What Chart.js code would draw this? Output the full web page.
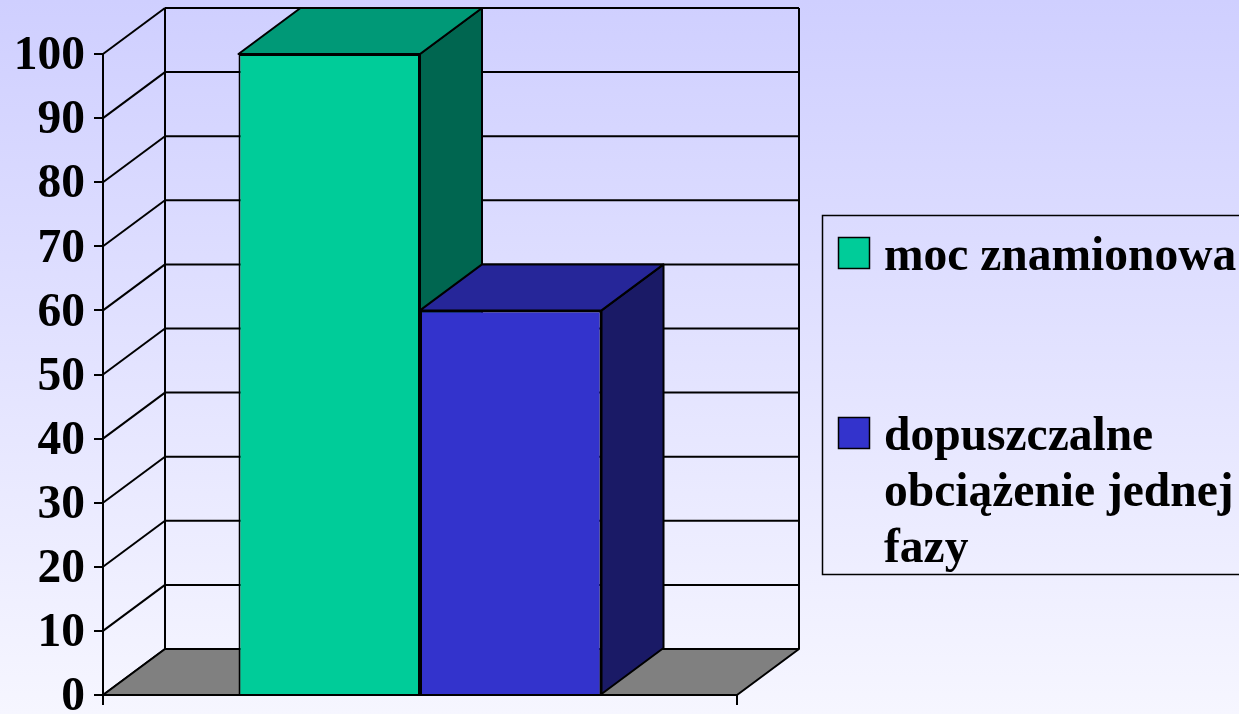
<!DOCTYPE html>
<html lang="pl">
<head>
<meta charset="utf-8">
<title>moc znamionowa</title>
<script src="https://cdn.jsdelivr.net/npm/chart.js@4/dist/chart.umd.js"></script>
<style>
    html, body { margin: 0; padding: 0; width: 1239px; height: 714px; overflow: hidden; }
    body { background: linear-gradient(#cfcfff, #f6f6ff); }
    canvas { display: block; }
</style>
</head>
<body>
<canvas id="wykres" width="1239" height="714"></canvas>
<script>
const categories = [''];
const mocZnamionowa = [100];
const obciazenieFazy = [60];
const yTicks = [0, 10, 20, 30, 40, 50, 60, 70, 80, 90, 100];
const seriesNames = ['moc znamionowa', 'dopuszczalne obciążenie jednej fazy'];
const legendLines = [['moc znamionowa'], ['dopuszczalne', 'obciążenie jednej', 'fazy']];

// colours of each bar: front, top, side
const barColors = [
    { front: '#00cc99', top: '#009977', side: '#006650' },
    { front: '#3333cc', top: '#262699', side: '#1a1a66' }
];

const DX = 62, DY = -46;
const FONT = 'bold 47.5px "Liberation Serif", "Times New Roman", serif';

function poly(ctx, pts, fill) {
    ctx.beginPath();
    ctx.moveTo(pts[0][0], pts[0][1]);
    pts.slice(1).forEach(p => ctx.lineTo(p[0], p[1]));
    ctx.closePath();
    if (fill) {
        ctx.fillStyle = fill;
        ctx.fill();
    }
    ctx.stroke();
}

function seg(ctx, x1, y1, x2, y2) {
    ctx.beginPath();
    ctx.moveTo(x1, y1);
    ctx.lineTo(x2, y2);
    ctx.stroke();
}

// walls, floor and the depth of the bars, under the front faces
const depth3d = {
    id: 'depth3d',
    beforeDatasetsDraw(chart) {
        const ctx = chart.ctx;
        const y = chart.scales.y, a = chart.chartArea;
        const y0 = y.getPixelForValue(0), yTop = y.getPixelForValue(100);
        ctx.save();
        ctx.strokeStyle = '#000';
        ctx.lineWidth = 2;
        ctx.lineJoin = 'round';

        yTicks.forEach(v => {
            const py = y.getPixelForValue(v);
            seg(ctx, a.left, py, a.left + DX, py + DY);
            seg(ctx, a.left + DX, py + DY, a.right + DX, py + DY);
        });
        seg(ctx, a.left + DX, y0 + DY, a.left + DX, yTop + DY);
        seg(ctx, a.right + DX, y0 + DY, a.right + DX, yTop + DY);

        poly(ctx, [[a.left, y0], [a.left + DX, y0 + DY], [a.right + DX, y0 + DY], [a.right, y0]], '#808080');

        chart.data.datasets.forEach((ds, i) => {
            const bar = chart.getDatasetMeta(i).data[0];
            const l = bar.x - bar.width / 2, r = bar.x + bar.width / 2;
            const t = bar.y, b = bar.base;
            poly(ctx, [[r, b], [r + DX, b + DY], [r + DX, t + DY], [r, t]], barColors[i].side);
            poly(ctx, [[l, t], [l + DX, t + DY], [r + DX, t + DY], [r, t]], barColors[i].top);
        });
        ctx.restore();
    }
};

const boxLegend = {
    id: 'boxLegend',
    afterDraw(chart) {
        const ctx = chart.ctx;
        ctx.save();
        ctx.strokeStyle = '#000';
        ctx.lineWidth = 1.5;
        ctx.strokeRect(822.5, 215.5, 430, 359);
        ctx.font = FONT;
        ctx.fillStyle = '#000';
        ctx.textBaseline = 'alphabetic';
        const rows = [{ box: 237, base: 270 }, { box: 417, base: 450 }];
        legendLines.forEach((lines, i) => {
            ctx.fillStyle = barColors[i].front;
            ctx.fillRect(838.5, rows[i].box + 0.5, 31, 31);
            ctx.strokeRect(838.5, rows[i].box + 0.5, 31, 31);
            ctx.fillStyle = '#000';
            lines.forEach((txt, k) => ctx.fillText(txt, 884, rows[i].base + k * 56));
        });
        ctx.restore();
    }
};

new Chart(document.getElementById('wykres').getContext('2d'), {
    type: 'bar',
    data: {
        labels: categories,
        datasets: [
            { label: seriesNames[0], data: mocZnamionowa, backgroundColor: barColors[0].front },
            { label: seriesNames[1], data: obciazenieFazy, backgroundColor: barColors[1].front }
        ].map(d => Object.assign(d, {
            borderColor: '#000',
            borderWidth: 2,
            barPercentage: 1,
            categoryPercentage: 0.5726
        }))
    },
    options: {
        responsive: false,
        animation: false,
        layout: { autoPadding: false, padding: { top: 54, right: 502, bottom: 0, left: 0 } },
        plugins: {
            legend: { display: false },
            title: { display: false },
            tooltip: { enabled: false }
        },
        scales: {
            x: {
                afterFit: s => { s.height = 19; },
                border: { color: '#000', width: 2 },
                grid: { drawOnChartArea: false, drawTicks: true, tickLength: 10, color: '#000', lineWidth: 2 },
                ticks: { display: false }
            },
            y: {
                min: 0,
                max: 100,
                afterFit: s => {
                    s.width = 103;
                    s.paddingTop = 0;
                    s.paddingBottom = 0;
                },
                afterBuildTicks: s => { s.ticks = yTicks.map(v => ({ value: v })); },
                border: { color: '#000', width: 2 },
                grid: { drawOnChartArea: false, drawTicks: true, tickLength: 9, color: '#000', lineWidth: 2 },
                ticks: {
                    color: '#000',
                    padding: 9,
                    labelOffset: 3,
                    font: { family: '"Liberation Serif", "Times New Roman", serif', size: 47.5, weight: 'bold' }
                }
            }
        }
    },
    plugins: [depth3d, boxLegend]
});
</script>
</body>
</html>
